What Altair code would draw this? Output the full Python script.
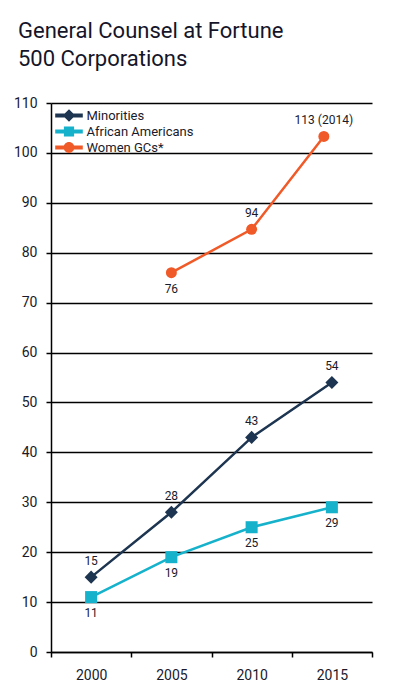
import altair as alt
import pandas as pd

# ---- data ----
series_names = ["Minorities", "African Americans", "Women GCs*"]
years = [2000, 2005, 2010, 2015]
minorities = [15, 28, 43, 54]
minorities_labels = ["15", "28", "43", "54"]
african_americans = [11, 19, 25, 29]
african_americans_labels = ["11", "19", "25", "29"]
women_years = [2005, 2010, 2014.5]
women_values = [76, 84.7, 103.3]
women_labels = ["76", "94", "113 (2014)"]
women_label_pos = ["below", "above", "above"]

y_ticks = list(range(0, 111, 10))
x_tick_values = [1997.5, 2000, 2002.5, 2005, 2007.5, 2010, 2012.5, 2015, 2017.5]

colors = ["#1d3550", "#16b2cb", "#f05a28"]
FONT = "Roboto, Liberation Sans, sans-serif"
TEXT_COLOR = "#1a1a2a"

rows = []
for y, v, l in zip(years, minorities, minorities_labels):
    rows.append({"year": y, "value": v, "series": series_names[0], "label": l, "pos": "above"})
for y, v, l in zip(years, african_americans, african_americans_labels):
    rows.append({"year": y, "value": v, "series": series_names[1], "label": l, "pos": "below"})
for y, v, l, p in zip(women_years, women_values, women_labels, women_label_pos):
    rows.append({"year": y, "value": v, "series": series_names[2], "label": l, "pos": p})
df = pd.DataFrame(rows)

color_scale = alt.Scale(domain=series_names, range=colors)

x_enc = alt.X(
    "year:Q",
    scale=alt.Scale(domain=[1997.5, 2017.5], nice=False, zero=False),
    axis=alt.Axis(
        values=x_tick_values,
        format="d",
        labelExpr="datum.value % 5 == 0 ? datum.label : ''",
        tickOpacity={"condition": {"test": "datum.value % 5 == 0", "value": 0}, "value": 1},
        title=None,
        grid=False,
        domainColor="black",
        domainWidth=1.5,
        tickColor="black",
        tickWidth=1.5,
        tickSize=5,
        labelFont=FONT,
        labelFontSize=14,
        labelColor=TEXT_COLOR,
        labelPadding=11,
    ),
)
y_enc = alt.Y(
    "value:Q",
    scale=alt.Scale(domain=[0, 110], nice=False),
    axis=alt.Axis(
        values=y_ticks,
        title=None,
        grid=True,
        gridColor="black",
        gridWidth=1.5,
        gridOpacity=1,
        domainColor="black",
        domainWidth=1.5,
        tickColor="black",
        tickWidth=1.5,
        tickSize=5,
        labelFont=FONT,
        labelFontSize=14,
        labelColor=TEXT_COLOR,
        labelPadding=9,
    ),
)

base = alt.Chart(df)

lines = base.mark_line(strokeWidth=2.5).encode(
    x=x_enc,
    y=y_enc,
    color=alt.Color("series:N", scale=color_scale, legend=None),
    detail="series:N",
)

points = base.mark_point(filled=True, opacity=1).encode(
    x="year:Q",
    y="value:Q",
    color=alt.Color("series:N", scale=color_scale, legend=None),
    shape=alt.Shape("series:N", scale=alt.Scale(domain=series_names, range=["diamond", "square", "circle"]), legend=None),
    size=alt.Size("series:N", scale=alt.Scale(domain=series_names, range=[170, 120, 120]), legend=None),
)

legend_paths = [
    "M-2.3,-0.33H2.3V0.33H-2.3Z M0,-1.05L1.05,0L0,1.05L-1.05,0Z",
    "M-2.3,-0.33H2.3V0.33H-2.3Z M-0.85,-0.85H0.85V0.85H-0.85Z",
    "M-2.3,-0.33H2.3V0.33H-2.3Z M0.9,0A0.9,0.9 0 1,1 -0.9,0A0.9,0.9 0 1,1 0.9,0Z",
]

legend_props = dict(
    title=None,
    orient="none",
    legendX=11.5,
    legendY=6,
    padding=0,
    symbolSize=144,
    symbolOpacity=1,
    symbolStrokeWidth=0,
    labelOffset=11,
    labelFont=FONT,
    labelFontSize=13,
    labelColor=TEXT_COLOR,
    rowPadding=2,
)

legend_layer = base.mark_point(filled=True, opacity=0, size=144).encode(
    x="year:Q",
    y="value:Q",
    color=alt.Color("series:N", scale=color_scale, legend=alt.Legend(**legend_props)),
    shape=alt.Shape(
        "series:N",
        scale=alt.Scale(domain=series_names, range=legend_paths),
        legend=alt.Legend(**legend_props),
    ),
)

labels_above = base.transform_filter(alt.datum.pos == "above").mark_text(
    dy=-16, font=FONT, fontSize=12, color=TEXT_COLOR
).encode(x="year:Q", y="value:Q", text="label:N")

labels_below = base.transform_filter(alt.datum.pos == "below").mark_text(
    dy=16, font=FONT, fontSize=12, color=TEXT_COLOR
).encode(x="year:Q", y="value:Q", text="label:N")

chart = (
    alt.layer(lines, points, legend_layer, labels_above, labels_below)
    .resolve_scale(color="independent", shape="independent", size="independent")
    .properties(
        width=321,
        height=549,
        autosize=alt.AutoSizeParams(type="none"),
        padding={"left": 43, "top": 95, "right": 19, "bottom": 34},
        title=alt.Title(
            ["General Counsel at Fortune", "500 Corporations"],
            anchor="start",
            frame="group",
            dx=-33,
            offset=25,
            font=FONT,
            fontSize=22,
            fontWeight="normal",
            color="#15152a",
            lineHeight=28,
        ),
    )
    .configure_view(stroke=None)
)

chart.save("out.html", embed_options={"renderer": "svg", "actions": False})
